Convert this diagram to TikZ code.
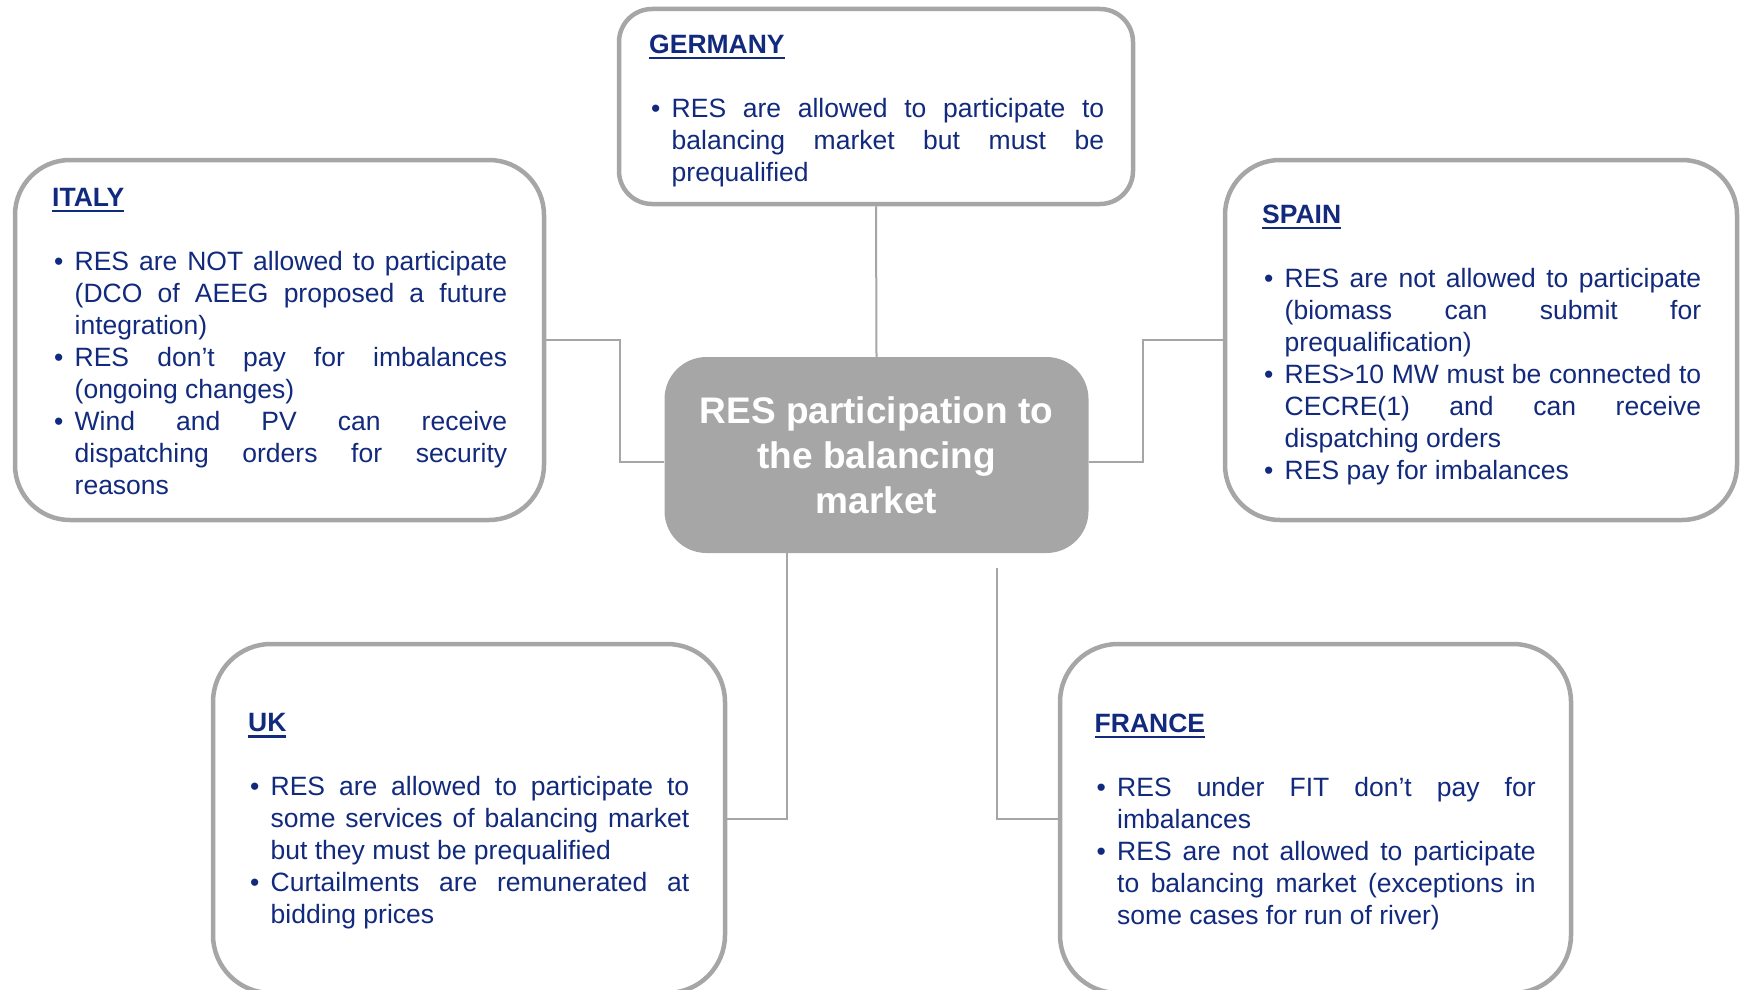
\documentclass[tikz,border=0pt]{standalone}
\usepackage{fontspec}
\setmainfont{Liberation Sans}
\usetikzlibrary{calc}

\definecolor{resnavy}{RGB}{18,42,125}
\definecolor{resgray}{RGB}{166,166,166}

% paragraph settings for the justified country panels
\hyphenpenalty=10000
\exhyphenpenalty=10000
\tolerance=10000
\hbadness=10000

\newcommand\panelfont{\fontsize{26.5}{32}\selectfont}
% underlined bold heading followed by one empty line
\newcommand\panelhead[1]{\noindent\setbox0\hbox{\bfseries #1}%
  \rlap{\rule[-6pt]{\wd0}{2.5pt}}\box0\par\vspace{32pt}}
% bullet item with hanging indent, closed inside the macro
\newcommand\resitem[1]{\par\noindent\hangindent=22.5pt\hangafter=1
  \makebox[22.5pt][l]{\hspace{2pt}\textbullet}#1\par}

\tikzset{
  panel/.style={rectangle, draw=resgray, line width=4.5pt, fill=white, inner sep=0pt},
  hubbox/.style={rectangle, fill=resgray, inner sep=0pt, text=white,
    font=\fontsize{37}{45}\selectfont\bfseries, align=center,
    minimum width=424pt, minimum height=196pt, rounded corners=42pt},
  conn/.style={draw=resgray, line width=2pt},
  paneltext/.style={anchor=north west, inner sep=0pt, text=resnavy,
    align=justify, font=\panelfont},
}

\begin{document}
\begin{tikzpicture}[x=1pt,y=-1pt]
\clip (0,0) rectangle (1742,990);

% country panels
\node[panel, minimum width=514pt, minimum height=195pt, rounded corners=33pt] (germany) at (876,106.5) {};
\node[panel, minimum width=529pt, minimum height=360pt, rounded corners=55pt] (italy) at (279.5,340) {};
\node[panel, minimum width=512pt, minimum height=360pt, rounded corners=55pt] (spain) at (1481,340) {};
\node[panel, minimum width=512pt, minimum height=349pt, rounded corners=58pt] (uk) at (469,818.5) {};
\node[panel, minimum width=511pt, minimum height=349pt, rounded corners=58pt] (france) at (1315.5,818.5) {};

% central topic
\node[hubbox] (hub) at (876.5,455) {RES participation to\\the balancing\\market};

% connectors
\draw[conn] (germany.south) -- (hub.north);
\draw[conn] (italy.east) -| ($(hub.west)+(-44,7)$) -- ($(hub.west)+(0,7)$);
\draw[conn] ($(hub.east)+(0,7)$) -- ($(hub.east)+(54,7)$) |- (spain.west);
\draw[conn] ($(hub.south)+(-90,0)$) |- (uk.east);
\coordinate (frtop) at (997,568);
\draw[conn] (frtop) |- (france.west);

% panel texts
\node[paneltext, text width=455pt] (germanytxt) at (649,34.5) {%
\panelhead{GERMANY}%
\resitem{RES are allowed to participate to\linebreak balancing market but must be\linebreak prequalified}};

\node[paneltext, text width=455pt] (italytxt) at (52,188) {%
\panelhead{ITALY}%
\resitem{RES are NOT allowed to participate\linebreak (DCO of AEEG proposed a future\linebreak integration)}%
\resitem{RES don't pay for imbalances\linebreak (ongoing changes)}%
\resitem{Wind and PV can receive\linebreak dispatching orders for security\linebreak reasons}};

\node[paneltext, text width=439pt] (spaintxt) at (1262,204.5) {%
\panelhead{SPAIN}%
\resitem{RES are not allowed to participate\linebreak (biomass can submit for\linebreak prequalification)}%
\resitem{RES>10 MW must be connected to\linebreak CECRE(1) and can receive\linebreak dispatching orders}%
\resitem{RES pay for imbalances}};

\node[paneltext, text width=441pt] (uktxt) at (248,713.5) {%
\panelhead{UK}%
\resitem{RES are allowed to participate to\linebreak some services of balancing market\linebreak but they must be prequalified}%
\resitem{Curtailments are remunerated at\linebreak bidding prices}};

\node[paneltext, text width=441pt] (francetxt) at (1094.5,713.5) {%
\panelhead{FRANCE}%
\resitem{RES under FIT don't pay for\linebreak imbalances}%
\resitem{RES are not allowed to participate\linebreak to balancing market (exceptions in\linebreak some cases for run of river)}};
\end{tikzpicture}
\end{document}
